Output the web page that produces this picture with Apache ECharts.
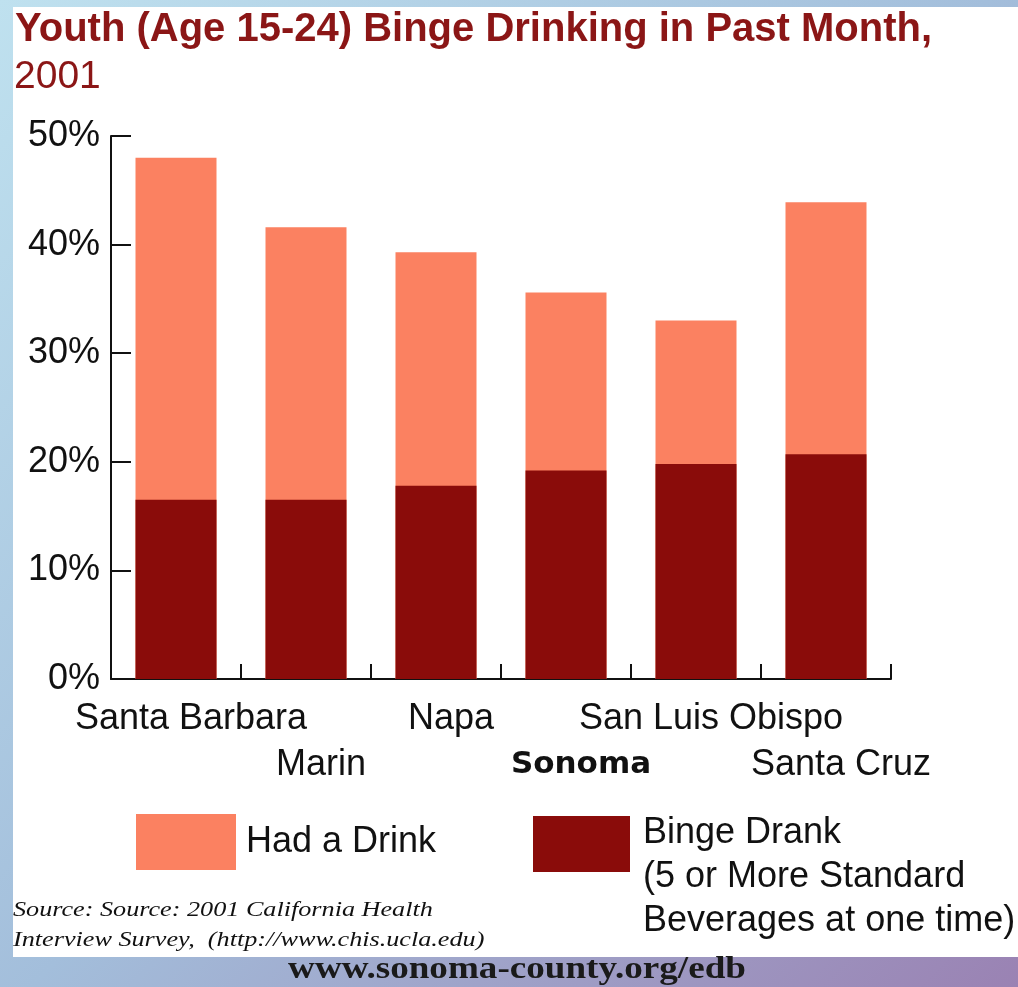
<!DOCTYPE html>
<html>
<head>
<meta charset="utf-8">
<script src="https://cdn.jsdelivr.net/npm/echarts@6/dist/echarts.min.js"></script>
<style>
html,body{margin:0;padding:0;width:1018px;height:987px;overflow:hidden;}
#c{width:1018px;height:987px;}
</style>
</head>
<body>
<div id="c"></div>
<script>
var categories = ['Santa Barbara', 'Marin', 'Napa', 'Sonoma', 'San Luis Obispo', 'Santa Cruz'];
var hadDrink = [48.0, 41.6, 39.3, 35.6, 33.0, 43.9];
var bingeDrank = [16.5, 16.5, 17.8, 19.2, 19.8, 20.7];
var yTicks = [0, 10, 20, 30, 40, 50];
var titleText = 'Youth (Age 15-24) Binge Drinking in Past Month,';
var subText = '2001';
var sourceText = 'Source: Source: 2001 California Health\nInterview Survey,  (http://www.chis.ucla.edu)';
var footerText = 'www.sonoma-county.org/edb';
var bingeLegendText = 'Binge Drank\n(5 or More Standard\nBeverages at one time)';

var SALMON = '#fb8161';
var DARK = '#8a0c0a';
var TITLE = '#8b1616';
var FONT = '"Liberation Sans", Arial, sans-serif';

var chart = echarts.init(document.getElementById('c'), null, {renderer: 'canvas'});
chart.setOption({
  animation: false,
  backgroundColor: new echarts.graphic.LinearGradient(0, 0, 1, 1, [
    {offset: 0, color: '#bfe1ef'},
    {offset: 0.5, color: '#a3bedb'},
    {offset: 1, color: '#9a82b3'}
  ]),
  graphic: [
    {type: 'rect', z: -10, silent: true, shape: {x: 13, y: 7, width: 1005, height: 950}, style: {fill: '#ffffff'}},
    {type: 'text', x: 15, y: 10, style: {text: titleText, fill: TITLE, font: 'bold 40px ' + FONT}},
    {type: 'text', x: 14, y: 58, style: {text: subText, fill: TITLE, font: '39px ' + FONT}},
    {type: 'text', x: 13, y: 895, scaleX: 1.19, style: {text: sourceText, fill: '#111', font: 'italic 22px "Liberation Serif", serif', lineHeight: 30}},
    {type: 'text', x: 517, y: 970, scaleX: 1.16, style: {text: footerText, fill: '#1a1a1a', font: 'bold 32px "Liberation Serif", serif', align: 'center', verticalAlign: 'middle'}}
  ],
  legend: [
    {
      left: 136, top: 814, padding: 0, itemWidth: 100, itemHeight: 56, icon: 'rect',
      data: ['Had a Drink'],
      textStyle: {fontFamily: FONT, fontSize: 36, color: '#111', padding: [0, 0, 0, 5]}
    },
    {
      left: 533, top: 745, padding: 0, itemWidth: 97, itemHeight: 56, icon: 'rect',
      data: ['Binge Drank'],
      formatter: function () { return '{e| }\n' + bingeLegendText; },
      textStyle: {
        fontFamily: FONT, fontSize: 36, color: '#111', lineHeight: 44, padding: [0, 0, 0, 8],
        rich: {e: {fontSize: 10, lineHeight: 66}}
      }
    }
  ],
  grid: {left: 111, right: 127, top: 136, bottom: 308, containLabel: false},
  xAxis: {
    type: 'category',
    data: categories,
    axisLine: {lineStyle: {color: '#111', width: 2}},
    axisTick: {show: true, inside: true, length: 15, lineStyle: {color: '#111', width: 2}},
    axisLabel: {
      interval: 0,
      margin: 17,
      color: '#111',
      fontFamily: FONT,
      fontSize: 36,
      lineHeight: 46,
      padding: [0, 0, 0, 30],
      formatter: function (v, i) {
        var t = v === 'Sonoma' ? '{s|' + v + '}' : v;
        return (i % 2 === 1 ? '\n' : '') + t;
      },
      rich: {
        s: {fontFamily: '"DejaVu Sans", sans-serif', fontWeight: 'bold', fontSize: 31, color: '#111', lineHeight: 46}
      }
    }
  },
  yAxis: {
    type: 'value',
    min: 0, max: 50, interval: 10,
    splitLine: {show: false},
    axisLine: {show: true, lineStyle: {color: '#111', width: 2}},
    axisTick: {show: true, inside: true, length: 20, lineStyle: {color: '#111', width: 2}},
    axisLabel: {
      margin: 11,
      color: '#111',
      fontFamily: FONT,
      fontSize: 36,
      formatter: function (v) { return yTicks.indexOf(v) >= 0 ? v + '%' : ''; }
    }
  },
  series: [
    {
      name: 'Had a Drink', type: 'bar', data: hadDrink,
      barWidth: 81, barGap: '-100%',
      itemStyle: {color: SALMON}
    },
    {
      name: 'Binge Drank', type: 'bar', data: bingeDrank,
      barWidth: 81, barGap: '-100%',
      itemStyle: {color: DARK}
    }
  ]
});
</script>
</body>
</html>
